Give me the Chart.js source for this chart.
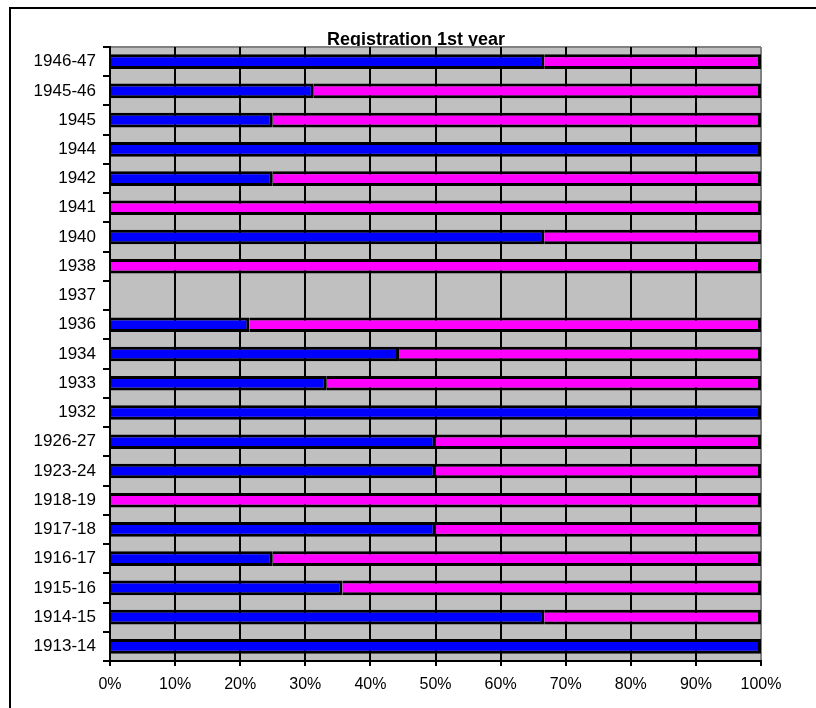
<!DOCTYPE html>
<html>
<head>
<meta charset="utf-8">
<script src="https://cdn.jsdelivr.net/npm/chart.js@4.4.0/dist/chart.umd.min.js"></script>
<style>
  body { margin: 0; background: #fff; }
  #frame { position: absolute; left: 9px; top: 7px; width: 900px; height: 800px; border-top: 2px solid #000; border-left: 2px solid #000; }
  #StatChart { position: absolute; left: 0; top: 0; }
</style>
</head>
<body>
<div id="frame"></div>
<canvas id="StatChart" width="816" height="708"></canvas>
<script>
var categories = ["1946-47", "1945-46", "1945", "1944", "1942", "1941", "1940", "1938", "1937", "1936",
    "1934", "1933", "1932", "1926-27", "1923-24", "1918-19", "1917-18", "1916-17", "1915-16", "1914-15", "1913-14"];
var blueValues = [66.7, 31.3, 25, 100, 25, 0, 66.7, 0, 0, 21.4, 44.4, 33.3, 100, 50, 50, 0, 50, 25, 35.7, 66.7, 100];
var pinkValues = [33.3, 68.7, 75, 0, 75, 100, 33.3, 100, 0, 78.6, 55.6, 66.7, 0, 50, 50, 100, 50, 75, 64.3, 33.3, 0];
var xTicks = [0, 10, 20, 30, 40, 50, 60, 70, 80, 90, 100];
var chartTitle = "Registration 1st year";

var fontName = "'Liberation Sans', Arial, sans-serif";

// grey plot background + title, drawn before scales and bars
var plotBack = {
    id: "plotBack",
    beforeDraw: function (chart) {
        var c = chart.ctx;
        var a = chart.chartArea;
        c.save();
        c.font = "bold 18px " + fontName;
        c.fillStyle = "#000";
        c.textAlign = "center";
        c.textBaseline = "alphabetic";
        c.fillText(chartTitle, 416, 45);
        c.fillStyle = "#c0c0c0";
        c.fillRect(a.left, a.top, a.right - a.left, a.bottom - a.top);
        c.strokeStyle = "#808080";
        c.lineWidth = 2;
        c.beginPath();
        c.moveTo(a.left, a.top);
        c.lineTo(a.right, a.top);
        c.stroke();
        c.restore();
    }
};

var ctx = document.getElementById("StatChart").getContext("2d");

var StatChart = new Chart(ctx, {
    type: "bar",
    data: {
        labels: categories,
        datasets: [
            {
                label: "blue",
                data: blueValues,
                backgroundColor: "#0000ff",
                borderColor: "#000000",
                borderWidth: 3,
                barPercentage: 0.5,
                categoryPercentage: 1
            },
            {
                label: "pink",
                data: pinkValues,
                backgroundColor: "#ff00ff",
                borderColor: "#000000",
                borderWidth: 3,
                barPercentage: 0.5,
                categoryPercentage: 1
            }
        ]
    },
    options: {
        indexAxis: "y",
        responsive: false,
        animation: false,
        layout: {
            padding: { top: 47, right: 55, bottom: 0, left: 0 }
        },
        plugins: {
            legend: { display: false },
            title: { display: false },
            tooltip: { enabled: false }
        },
        scales: {
            x: {
                stacked: true,
                min: 0,
                max: 100,
                afterBuildTicks: function (scale) {
                    scale.ticks = xTicks.map(function (v) { return { value: v }; });
                },
                afterFit: function (scale) {
                    scale.height = 47;
                },
                ticks: {
                    color: "#000",
                    font: { family: fontName, size: 16 },
                    padding: 9,
                    maxRotation: 0,
                    callback: function (v) { return v + "%"; }
                },
                grid: {
                    color: function (c) { return c.tick && c.tick.value === 100 ? "#808080" : "#000"; },
                    tickColor: "#000",
                    lineWidth: 2,
                    tickLength: 5
                },
                border: { color: "#000", width: 2 }
            },
            y: {
                stacked: true,
                afterFit: function (scale) {
                    scale.width = 110;
                },
                ticks: {
                    color: "#000",
                    font: { family: fontName, size: 17 },
                    padding: 7,
                    autoSkip: false
                },
                grid: {
                    offset: true,
                    drawOnChartArea: false,
                    color: "#000",
                    tickColor: "#000",
                    lineWidth: 2,
                    tickLength: 7
                },
                border: { color: "#000", width: 2 }
            }
        }
    },
    plugins: [plotBack]
});
</script>
</body>
</html>
